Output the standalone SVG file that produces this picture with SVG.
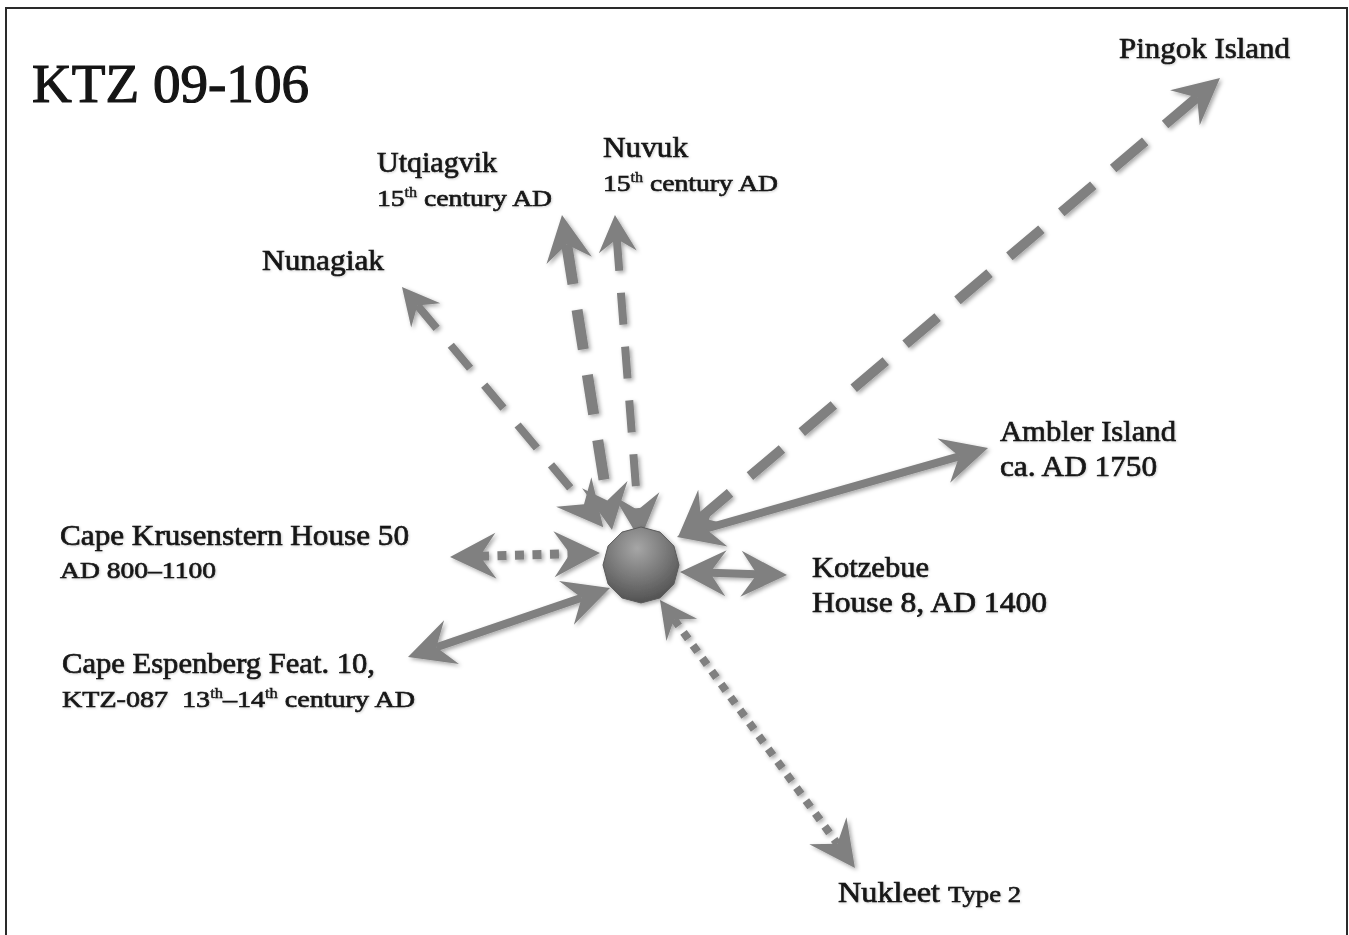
<svg xmlns="http://www.w3.org/2000/svg" width="1349" height="935" viewBox="0 0 1349 935">
  <style>
    .lbl { font-family: "Liberation Serif", "Times New Roman", serif; fill: #151515; stroke: #151515; stroke-width: 0.65; }
    .ttl { font-size: 55px; stroke-width: 1.2; }
    .name { font-size: 29px; }
    .sub { font-size: 24px; }
    .sup { font-size: 14px; stroke-width: 0.4; }
    .conn { fill: none; stroke: #808080; }
    .solid { stroke-width: 8; }
    .big { marker-start: url(#headBig); marker-end: url(#headBig); }
    .smallStart { marker-start: url(#headSmall); marker-end: url(#headBig); }
  </style>
  <defs>
    <filter id="shadow" x="-20%" y="-20%" width="140%" height="140%">
      <feDropShadow dx="2" dy="2" stdDeviation="2" flood-color="#000" flood-opacity="0.35"/>
    </filter>
    <filter id="tshadow" x="-10%" y="-30%" width="120%" height="160%">
      <feDropShadow dx="1" dy="1" stdDeviation="1.2" flood-color="#000" flood-opacity="0.18"/>
    </filter>
    <marker id="headBig" markerUnits="userSpaceOnUse" orient="auto-start-reverse" markerWidth="60" markerHeight="60" refX="0" refY="0" overflow="visible">
      <path d="M30,0 L-16,-23 L0,0 L-16,23 Z" fill="#808080"/>
    </marker>
    <marker id="headSmall" markerUnits="userSpaceOnUse" orient="auto-start-reverse" markerWidth="50" markerHeight="50" refX="0" refY="0" overflow="visible">
      <path d="M24,0 L-13,-19 L0,0 L-13,19 Z" fill="#808080"/>
    </marker>
    <radialGradient id="nodeGrad" cx="45%" cy="28%" r="80%">
      <stop offset="0" stop-color="#a6a6a6"/>
      <stop offset="0.55" stop-color="#737373"/>
      <stop offset="1" stop-color="#484848"/>
    </radialGradient>
  </defs>

  <rect x="6" y="8" width="1341" height="940" fill="#ffffff" stroke="#2a2a2a" stroke-width="2"/>

  <g id="title">
    <text class="lbl ttl" x="32" y="102" textLength="277" lengthAdjust="spacingAndGlyphs">KTZ 09-106</text>
  </g>

  <g id="connectors" filter="url(#shadow)">
    <!-- Nunagiak -->
    <path class="conn smallStart" d="M417.4,305.4 L584,504.2" stroke-width="8" stroke-dasharray="30 22"/>
    <!-- Utqiagvik -->
    <path class="conn big" d="M566.7,244.6 L607.3,500.4" stroke-width="11" stroke-dasharray="40 26"/>
    <!-- Nuvuk -->
    <path class="conn smallStart" d="M616.8,238.9 L637.7,510" stroke-width="8" stroke-dasharray="32 22"/>
    <!-- Pingok Island -->
    <path class="conn big" d="M1197.1,97.4 L700.9,517.6" stroke-width="10" stroke-dasharray="42 26"/>
    <!-- Ambler Island -->
    <path class="conn solid big" d="M705.8,528.7 L959.2,456.3"/>
    <!-- Kotzebue -->
    <path class="conn solid big" d="M710,572.8 L757,574.2"/>
    <!-- Cape Krusenstern -->
    <path class="conn big" d="M480,556.2 L570,553.8" stroke-width="9" stroke-dasharray="9 8.5"/>
    <!-- Cape Espenberg -->
    <path class="conn solid big" d="M436.4,647.3 L581.6,597.7"/>
    <!-- Nukleet -->
    <path class="conn smallStart" d="M674.1,619.4 L837.3,843.7" stroke-width="8" stroke-dasharray="8 8"/>
  </g>

  <g id="center" filter="url(#shadow)">
    <polygon points="679,565 673.9,584 660,597.9 641,603 622,597.9 608.1,584 603,565 608.1,546 622,532.1 641,527 660,532.1 673.9,546" fill="url(#nodeGrad)" stroke="#5a5a5a" stroke-width="1"/>
  </g>

  <g id="labels" filter="url(#tshadow)">
    <g id="pingok">
      <text class="lbl name" x="1119" y="58" textLength="171" lengthAdjust="spacingAndGlyphs">Pingok Island</text>
    </g>
    <g id="utqiagvik">
      <text class="lbl name" x="377" y="172" textLength="120" lengthAdjust="spacingAndGlyphs">Utqiagvik</text>
      <text class="lbl sub" x="377" y="206" textLength="175" lengthAdjust="spacingAndGlyphs">15<tspan class="sup" dy="-9">th</tspan><tspan dy="9"> century AD</tspan></text>
    </g>
    <g id="nuvuk">
      <text class="lbl name" x="603" y="157" textLength="85" lengthAdjust="spacingAndGlyphs">Nuvuk</text>
      <text class="lbl sub" x="603" y="191" textLength="175" lengthAdjust="spacingAndGlyphs">15<tspan class="sup" dy="-9">th</tspan><tspan dy="9"> century AD</tspan></text>
    </g>
    <g id="nunagiak">
      <text class="lbl name" x="262" y="270" textLength="122" lengthAdjust="spacingAndGlyphs">Nunagiak</text>
    </g>
    <g id="ambler">
      <text class="lbl name" x="1000" y="441" textLength="176" lengthAdjust="spacingAndGlyphs">Ambler Island</text>
      <text class="lbl name" x="1000" y="476" textLength="157" lengthAdjust="spacingAndGlyphs">ca. AD 1750</text>
    </g>
    <g id="krusenstern">
      <text class="lbl name" x="60" y="545" textLength="349" lengthAdjust="spacingAndGlyphs">Cape Krusenstern House 50</text>
      <text class="lbl sub" x="60" y="578" textLength="156" lengthAdjust="spacingAndGlyphs">AD 800–1100</text>
    </g>
    <g id="kotzebue">
      <text class="lbl name" x="812" y="577" textLength="117" lengthAdjust="spacingAndGlyphs">Kotzebue</text>
      <text class="lbl name" x="812" y="612" textLength="235" lengthAdjust="spacingAndGlyphs">House 8, AD 1400</text>
    </g>
    <g id="espenberg">
      <text class="lbl name" x="62" y="673" textLength="313" lengthAdjust="spacingAndGlyphs">Cape Espenberg Feat. 10,</text>
      <text class="lbl sub" x="62" y="707" textLength="353" lengthAdjust="spacingAndGlyphs">KTZ-087 <tspan dx="6">13</tspan><tspan class="sup" dy="-9">th</tspan><tspan dy="9">–14</tspan><tspan class="sup" dy="-9">th</tspan><tspan dy="9"> century AD</tspan></text>
    </g>
    <g id="nukleet">
      <text class="lbl name" x="838" y="902" textLength="183" lengthAdjust="spacingAndGlyphs">Nukleet <tspan class="sub">Type 2</tspan></text>
    </g>
  </g>
</svg>
